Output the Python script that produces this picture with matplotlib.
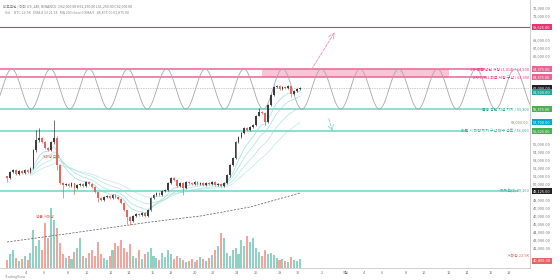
import matplotlib as mpl
mpl.use('Agg')
import matplotlib.pyplot as plt
import matplotlib.transforms as mtransforms
import numpy as np
import pandas as pd

plt.rcParams['font.family'] = ['Noto Sans CJK KR', 'DejaVu Sans']

# 4h candles, closing prices
CLOSES = [50750, 51500, 51750, 51250, 51625, 51375, 51750, 51500, 52000, 54250,
          55500, 55750, 55250, 54500, 54250, 55250, 55750, 52375, 50125, 49875,
          50000, 49750, 50125, 49500, 49875, 50000, 49750, 50250, 50000, 49625,
          49000, 48250, 48000, 48375, 48500, 48250, 48625, 48375, 48125, 47625,
          46750, 45875, 45375, 46000, 46250, 46125, 46375, 46000, 46750, 48250,
          48625, 48875, 48625, 49125, 49250, 50125, 50750, 50500, 49750, 50125,
          49500, 50250, 50125, 50000, 50250, 50000, 50125, 49875, 50125, 50000,
          50250, 49875, 50000, 49750, 50125, 51125, 52375, 53250, 55250, 55875,
          56375, 57000, 56750, 57125, 57375, 58500, 59000, 58875, 57750, 59875,
          61125, 62125, 62250, 61875, 62125, 62000, 62250, 61250, 61625, 61875,
          62000]
FIRST_OPEN = 51000
# candles with long wicks: index -> (high, low)
WICKS = {0: (51000, 50250), 10: (56750, 54000), 11: (57000, 55250), 16: (58000, 55000),
         17: (56000, 51750), 19: (50250, 48250), 23: (50000, 48750), 31: (49000, 47750),
         41: (46750, 45000), 42: (46000, 44875), 60: (50250, 48625), 76: (52500, 50875),
         86: (59500, 58500), 88: (59000, 57375), 97: (62250, 60875)}
VOLUMES = [8, 14, 18, 10, 7, 9, 12, 8, 15, 38, 22, 28, 18, 45, 30, 60, 48, 40, 25, 14,
           10, 12, 9, 16, 20, 30, 12, 10, 15, 18, 12, 26, 14, 10, 8, 12, 18, 25, 22, 28,
           20, 16, 24, 12, 10, 18, 9, 14, 16, 20, 12, 10, 8, 15, 11, 18, 14, 9, 12, 10,
           8, 6, 7, 9, 6, 8, 11, 9, 7, 10, 13, 18, 22, 35, 30, 15, 12, 18, 20, 14,
           28, 22, 32, 26, 30, 20, 16, 12, 18, 14, 15, 13, 10, 8, 9, 7, 6, 11, 8, 7, 9]
EMA_SPANS = [8, 13, 21, 34]
MA200_IDX = [0, 15, 32, 49, 66, 83, 100]
MA200_VAL = [42750, 43500, 44375, 45250, 46000, 47125, 48875]

# drawn levels
LEVEL_TOP = 69625
LEVEL_T1 = 64375
LEVEL_T2 = 63375
LEVEL_S1 = 59375
LEVEL_S2 = 56625
LEVEL_S3 = 49125
LAST_PRICE = 62000
SINE_TOP, SINE_BOTTOM, SINE_PERIOD, SINE_TROUGH = 64375, 59375, 13.21, 8.19

TIME_POS = [6.5, 12.6, 20.8, 27.3, 35.5, 41.6, 49.8, 56, 64.2, 70.3, 78.5, 85,
            93.2, 99.3, 107.5, 115.7, 121.8, 128, 136.2, 142.3, 150.8, 157, 165.2, 171.3]
TIME_LABELS = ['4', '6', '8', '10', '12', '14', '16', '18', '20', '22', '24', '26',
               '28', '30', '2', '9월', '4', '6', '8', '10', '12', '14', '16', '18']

UP, DOWN = '#3d3d3d', '#e4675f'
PINK, MAGENTA, TEAL = '#f06292', '#e8336f', '#6fd3c7'
XMIN, XMAX = -2.4, 178.5


def plot_candles(ax, vax):
    closes = np.array(CLOSES, dtype=float)
    opens = np.concatenate([[FIRST_OPEN], closes[:-1]])
    x = np.arange(len(closes))
    highs = np.maximum(opens, closes) + 150
    lows = np.minimum(opens, closes) - 150
    for i, (h, l) in WICKS.items():
        highs[i], lows[i] = h, l
    colors = [UP if c >= o else DOWN for o, c in zip(opens, closes)]
    ax.vlines(x, lows, highs, colors=colors, lw=0.5, zorder=5)
    body = np.maximum(np.abs(closes - opens), 60)
    ax.bar(x, body, bottom=np.minimum(opens, closes), width=0.6,
           color=colors, lw=0, zorder=6)
    vcol = ['#8fd1c2' if c >= o else '#f3a49c' for o, c in zip(opens, closes)]
    vax.bar(x, VOLUMES, width=0.7, color=vcol, lw=0)

    s = pd.Series(closes)
    for span, a in zip(EMA_SPANS, [0.9, 0.8, 0.7, 0.6]):
        ema = s.ewm(span=span, adjust=False).mean().values
        ax.plot(x[8:], ema[8:], color='#8fdcd2', lw=0.5, alpha=a, zorder=3)
    ax.plot(MA200_IDX, MA200_VAL, color='#555555', lw=0.5, ls=(0, (3, 2)), zorder=3)


def plot_levels(ax):
    ax.axhline(LEVEL_TOP, color=MAGENTA, lw=0.8, zorder=2)
    ax.hlines(LEVEL_T1, XMIN, 163, color=PINK, lw=1.1, zorder=2)
    ax.hlines(LEVEL_T2, XMIN, 163.5, color=PINK, lw=1.1, zorder=2)
    ax.fill_between([87, 151], LEVEL_T2, LEVEL_T1, color='#f8c5d6', lw=0, zorder=1)
    ax.hlines(LEVEL_S1, XMIN, 163.5, color=TEAL, lw=1.1, zorder=2)
    ax.hlines(LEVEL_S2, XMIN, 157, color=TEAL, lw=1.1, zorder=2)
    ax.hlines(LEVEL_S3, XMIN, 174.5, color=TEAL, lw=1.1, zorder=2)
    ax.axhline(LAST_PRICE, color='#9a9a9a', lw=0.5, ls=(0, (1, 1.5)), zorder=2)

    xs = np.linspace(XMIN, XMAX, 1200)
    mid = (SINE_TOP + SINE_BOTTOM) / 2
    amp = (SINE_TOP - SINE_BOTTOM) / 2
    ax.plot(xs, mid - amp * np.cos(2 * np.pi * (xs - SINE_TROUGH) / SINE_PERIOD),
            color='#a8a8a8', lw=0.6, zorder=2)

    kw = dict(ha='right', va='center', fontsize=2.8, zorder=7)
    ax.text(178.2, LEVEL_T1, '1차 목표 상단 저항 (1.414) / 64,500', color=MAGENTA, **kw)
    ax.text(178.2, LEVEL_T2, '2차 1.382 피보 저항 구간 / 63,300', color=MAGENTA, **kw)
    ax.text(178.2, LEVEL_S1, '불봉 중단 지점 지지 / 59,300', color='#2aa893', **kw)
    ax.text(178.2, LEVEL_S2, '이탈 시 하락 지지 구간 매수 검토 / 56,600', color='#2aa893', **kw)
    ax.text(178.2, LEVEL_S3, '지지선(1) 49,100', color='#2aa893', **kw)
    ax.text(178.2, 57700, '58,000.00', color=DOWN, **kw)
    ax.text(178.2, 41000, '거래량 22.5K', color=DOWN, **kw)
    ax.text(12, 53300, '거래량 급증', color=DOWN, fontsize=2.6, zorder=7)
    ax.text(10, 45700, '평균 거래량', color=DOWN, fontsize=2.6, zorder=7)

    ax.annotate('', xy=(112.3, 69250), xytext=(103.4, 64000),
                arrowprops=dict(arrowstyle='->', color='#f48fb1', lw=0.6, ls='--'))
    ax.annotate('', xy=(111.3, 56250), xytext=(109.6, 58500),
                arrowprops=dict(arrowstyle='->', color='#7fd6cb', lw=0.6, ls='--'))


TAGS = [(LEVEL_TOP, MAGENTA), (LEVEL_T1, PINK), (LEVEL_T2, PINK),
        (LAST_PRICE, '#222222'), (61500, '#26a69a'), (LEVEL_S1, '#4caf50'),
        (57700, '#00acc1'), (LEVEL_S2, '#4caf50'), (LEVEL_S3, '#222222'),
        (40400, DOWN)]


def add_price_tags(ax):
    trans = mtransforms.blended_transform_factory(ax.transAxes, ax.transData)
    for price, col in TAGS:
        ax.text(1.006, price, '{:,.2f}'.format(price), transform=trans, fontsize=2.8,
                color='white', va='center', ha='left', clip_on=False,
                bbox=dict(boxstyle='square,pad=0.25', fc=col, ec='none'))


def main():
    fig = plt.figure(figsize=(5.6, 2.8), dpi=100)
    ax = fig.add_axes([0, 12 / 280, 530 / 560, 268 / 280])
    vax = ax.twinx()
    vax.set_ylim(0, 268)
    vax.axis('off')
    ax.set_zorder(vax.get_zorder() + 1)
    ax.patch.set_visible(False)

    plot_candles(ax, vax)
    plot_levels(ax)

    ax.set_xlim(XMIN, XMAX)
    ax.set_ylim(39500, 73000)
    ax.yaxis.tick_right()
    # skip price labels hidden behind the coloured tags
    yt = [v for v in np.arange(40000, 73000, 1000)
          if min(abs(v - p) for p, _ in TAGS) > 650]
    ax.set_yticks(yt)
    ax.set_yticklabels(['{:,.2f}'.format(v) for v in yt])
    ax.set_xticks(TIME_POS)
    ax.set_xticklabels(TIME_LABELS)
    ax.tick_params(axis='both', length=0, labelsize=2.8, colors='#777777', pad=2)
    for side in ['top', 'left']:
        ax.spines[side].set_visible(False)
    for side in ['right', 'bottom']:
        ax.spines[side].set_color('#c8c8c8')
        ax.spines[side].set_linewidth(0.6)
    add_price_tags(ax)

    fig.text(0.006, 0.985, '비트코인 / 테더 US, 240, BINANCE  O62,000.00 H62,250.00 L61,250.00 C62,000.00',
             fontsize=2.6, color='#777777', va='top')
    fig.text(0.009, 0.962, 'Vol · BTC 22.5K   EMA 8 13 21 34   MA 200 close 0 SMA 9   48,875.00 61,875.00',
             fontsize=2.6, color='#888888', va='top')
    fig.text(0.008, 0.008, 'TradingView', fontsize=2.6, color='#888888')
    fig.savefig('out.png', dpi=100)
    return fig


main()
